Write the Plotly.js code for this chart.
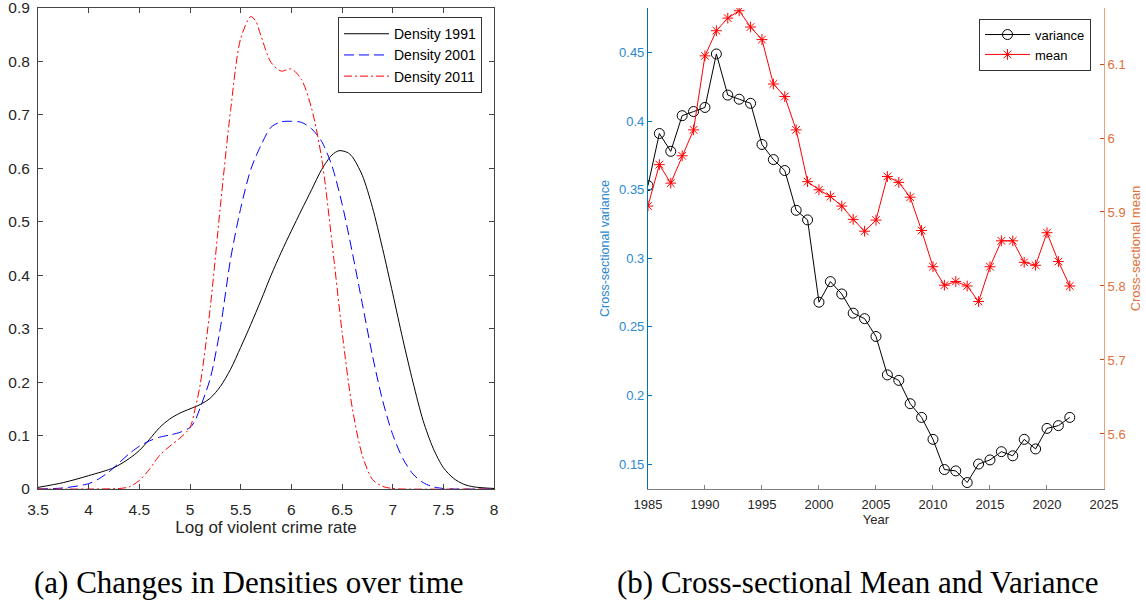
<!DOCTYPE html>
<html>
<head>
<meta charset="utf-8">
<script src="https://cdn.plot.ly/plotly-3.0.1.min.js"></script>
<style>html,body{margin:0;padding:0;background:#fff;}#chart{width:1146px;height:601px;}</style>
</head>
<body>
<div id="chart"></div>
<script>
// ---- Panel (a): densities ----
const x1991 = [3.5,3.75,4.0,4.25,4.4,4.5,4.6,4.7,4.8,4.9,5.0,5.1,5.2,5.3,5.4,5.5,5.6,5.7,5.8,5.9,6.0,6.1,6.2,6.3,6.4,6.47,6.55,6.6,6.7,6.8,6.9,7.0,7.1,7.2,7.3,7.4,7.5,7.6,7.7,7.8,8.0];
const d1991 = [0.003,0.012,0.025,0.040,0.057,0.072,0.093,0.115,0.131,0.142,0.150,0.158,0.170,0.192,0.224,0.265,0.308,0.353,0.40,0.443,0.483,0.522,0.560,0.598,0.625,0.633,0.630,0.622,0.587,0.527,0.450,0.366,0.280,0.200,0.128,0.076,0.040,0.020,0.009,0.004,0.001];
const x2001 = [3.5,3.75,4.0,4.1,4.2,4.3,4.4,4.5,4.6,4.7,4.8,4.9,5.0,5.05,5.1,5.2,5.3,5.4,5.5,5.6,5.7,5.8,5.9,6.0,6.1,6.2,6.3,6.4,6.5,6.6,6.7,6.8,6.9,7.0,7.1,7.2,7.3,7.4,7.5,7.6,8.0];
const d2001 = [0.0,0.002,0.010,0.019,0.032,0.049,0.066,0.080,0.090,0.097,0.101,0.106,0.115,0.128,0.152,0.207,0.302,0.430,0.525,0.598,0.643,0.677,0.687,0.688,0.686,0.674,0.650,0.605,0.534,0.444,0.347,0.250,0.166,0.102,0.057,0.028,0.012,0.004,0.001,0.0,0.0];
const x2011 = [3.5,4.0,4.3,4.4,4.5,4.6,4.7,4.8,4.9,5.0,5.05,5.1,5.2,5.3,5.4,5.5,5.6,5.65,5.7,5.8,5.9,6.0,6.1,6.2,6.3,6.4,6.5,6.6,6.7,6.8,6.9,7.0,7.1,8.0];
const d2011 = [0.0,0.0,0.001,0.004,0.016,0.037,0.063,0.080,0.095,0.115,0.150,0.195,0.340,0.530,0.708,0.843,0.884,0.875,0.848,0.798,0.782,0.786,0.766,0.712,0.618,0.463,0.295,0.153,0.063,0.018,0.005,0.001,0.0,0.0];

// ---- Panel (b): cross-sectional variance and mean ----
const years = [1985,1986,1987,1988,1989,1990,1991,1992,1993,1994,1995,1996,1997,1998,1999,2000,2001,2002,2003,2004,2005,2006,2007,2008,2009,2010,2011,2012,2013,2014,2015,2016,2017,2018,2019,2020,2021,2022];
const variance = [0.353,0.391,0.378,0.404,0.407,0.410,0.449,0.419,0.416,0.413,0.383,0.372,0.364,0.335,0.328,0.268,0.283,0.274,0.260,0.256,0.243,0.215,0.211,0.194,0.184,0.168,0.146,0.145,0.1365,0.150,0.153,0.159,0.156,0.168,0.161,0.176,0.178,0.184];
const meanv = [5.908,5.964,5.939,5.976,6.011,6.111,6.145,6.162,6.172,6.150,6.133,6.073,6.056,6.011,5.941,5.930,5.921,5.908,5.890,5.874,5.889,5.948,5.940,5.920,5.875,5.826,5.801,5.806,5.800,5.779,5.826,5.861,5.861,5.832,5.828,5.872,5.833,5.800];

const densTicks = [0,0.1,0.2,0.3,0.4,0.5,0.6,0.7,0.8,0.9];
const densTickText = ['0','0.1','0.2','0.3','0.4','0.5','0.6','0.7','0.8','0.9'];
const varTicks = [0.15,0.2,0.25,0.3,0.35,0.4,0.45];
const varTickText = ['0.15','0.2','0.25','0.3','0.35','0.4','0.45'];
const meanTicks = [5.6,5.7,5.8,5.9,6.0,6.1];
const meanTickText = ['5.6','5.7','5.8','5.9','6','6.1'];

const FONT = 'Liberation Sans, Arial, Helvetica, sans-serif';
const SERIF = 'Liberation Serif, Times New Roman, serif';
const BLUE = '#0072BD';
const ORANGE = '#D95319';

const traces = [
  {x:x1991, y:d1991, type:'scatter', mode:'lines', name:'Density 1991', line:{color:'#000000', width:1, shape:'spline', smoothing:0.8}, xaxis:'x', yaxis:'y', legend:'legend'},
  {x:x2001, y:d2001, type:'scatter', mode:'lines', name:'Density 2001', line:{color:'#0000FF', width:1, dash:'10px,5px', shape:'spline', smoothing:0.8}, xaxis:'x', yaxis:'y', legend:'legend'},
  {x:x2011, y:d2011, type:'scatter', mode:'lines', name:'Density 2011', line:{color:'#FF0000', width:1, dash:'8px,3px,2px,3px', shape:'spline', smoothing:0.8}, xaxis:'x', yaxis:'y', legend:'legend'},
  {x:years, y:variance, type:'scatter', mode:'lines+markers', name:'variance', line:{color:'#000000', width:1}, marker:{symbol:'circle-open', size:10, color:'#000000', line:{width:1, color:'#000000'}}, xaxis:'x2', yaxis:'y2', legend:'legend2'},
  {x:years, y:meanv, type:'scatter', mode:'lines+markers', name:'mean', line:{color:'#FF0000', width:1}, marker:{symbol:'asterisk-open', size:9, color:'#FF0000', line:{width:1, color:'#FF0000'}}, xaxis:'x2', yaxis:'y3', legend:'legend2'}
];

const layout = {
  width:1146, height:601,
  margin:{l:38, r:42, t:8, b:112},
  paper_bgcolor:'#ffffff', plot_bgcolor:'#ffffff',
  font:{family:FONT, color:'#262626'},
  showlegend:true,
  xaxis:{domain:[0,0.4278], anchor:'y', range:[3.5,8], dtick:0.5, tick0:3.5, ticks:'inside', ticklen:5, tickcolor:'#444',
         showline:true, linecolor:'#444', linewidth:1, mirror:'ticks', showgrid:false, zeroline:false,
         ticklabelstandoff:6, ticklabeloverflow:'allow',
         tickfont:{size:15.5, family:FONT, color:'#262626'},
         title:{text:'Log of violent crime rate', font:{size:17, family:FONT, color:'#262626'}, standoff:3}},
  yaxis:{domain:[0,1], anchor:'x', range:[0,0.9], tickvals:densTicks, ticktext:densTickText, ticks:'inside', ticklen:5, tickcolor:'#444',
         showline:true, linecolor:'#444', linewidth:1, mirror:'ticks', showgrid:false, zeroline:false,
         ticklabelstandoff:4, ticklabeloverflow:'allow',
         tickfont:{size:15.5, family:FONT, color:'#262626'}},
  xaxis2:{domain:[0.5722,1], anchor:'y2', range:[1985,2025], dtick:5, tick0:1985, ticks:'inside', ticklen:4, tickcolor:'#808080',
          showline:true, linecolor:'#808080', linewidth:1, showgrid:false, zeroline:false,
          ticklabelstandoff:3, ticklabeloverflow:'allow',
          tickfont:{size:13, family:FONT, color:'#262626'},
          title:{text:'Year', font:{size:13, family:FONT, color:'#262626'}, standoff:1}},
  yaxis2:{domain:[0,1], anchor:'x2', range:[0.1318,0.4825], tickvals:varTicks, ticktext:varTickText, ticks:'inside', ticklen:4, tickcolor:BLUE,
          showline:true, linecolor:BLUE, linewidth:1, showgrid:false, zeroline:false,
          tickfont:{size:13, family:FONT, color:'#2A88CF'},
          title:{text:'Cross-sectional variance', font:{size:12.5, family:FONT, color:'#2A88CF'}, standoff:6}},
  yaxis3:{overlaying:'y2', anchor:'x2', side:'right', range:[5.5256,6.1757], tickvals:meanTicks, ticktext:meanTickText, ticks:'inside', ticklen:4, tickcolor:ORANGE,
          showline:true, linecolor:'#E8A080', linewidth:1, showgrid:false, zeroline:false,
          tickfont:{size:13, family:FONT, color:'#E0703A'},
          title:{text:'Cross-sectional mean', font:{size:13, family:FONT, color:'#E0703A'}, standoff:6}},
  legend:{x:0.4165, y:0.981, xanchor:'right', yanchor:'top', bgcolor:'#ffffff', bordercolor:'#333', borderwidth:1,
          font:{size:14, family:FONT, color:'#000'}, itemwidth:45, tracegroupgap:0},
  legend2:{x:0.9878, y:0.978, xanchor:'right', yanchor:'top', bgcolor:'#ffffff', bordercolor:'#333', borderwidth:1,
          font:{size:13, family:FONT, color:'#000'}, itemwidth:45, tracegroupgap:0},
  annotations:[
    {text:'(a) Changes in Densities over time', xref:'paper', yref:'paper', x:0.1979, y:-0.1954, xanchor:'center', yanchor:'middle', showarrow:false, font:{family:SERIF, size:31, color:'#000'}},
    {text:'(b) Cross-sectional Mean and Variance', xref:'paper', yref:'paper', x:0.7683, y:-0.1954, xanchor:'center', yanchor:'middle', showarrow:false, font:{family:SERIF, size:31, color:'#000'}}
  ]
};

Plotly.newPlot('chart', traces, layout, {displayModeBar:false, staticPlot:true});
</script>
</body>
</html>
